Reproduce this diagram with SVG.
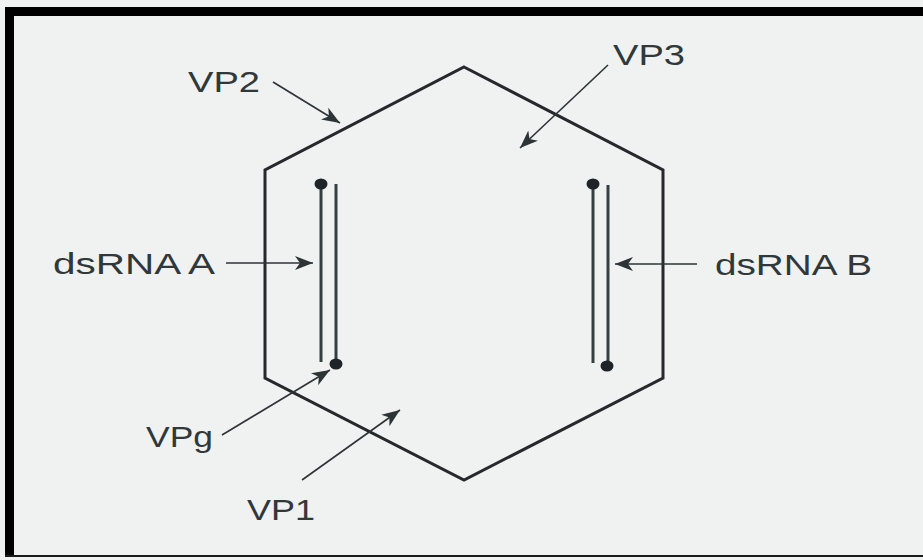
<svg xmlns="http://www.w3.org/2000/svg" width="923" height="560" viewBox="0 0 923 560">
<style>
.lbl{font-family:"Liberation Sans",Arial,sans-serif;font-size:29px;fill:#30383a}
.hex{fill:none;stroke:#26292b;stroke-width:3;stroke-linejoin:miter}
.strand{stroke:#34403f;stroke-width:3;fill:none}
.dot{fill:#1f2428}
.arr{stroke:#2c3436;stroke-width:1.6;fill:none;marker-end:url(#ah)}
</style>
<defs>
<marker id="ah" markerUnits="userSpaceOnUse" markerWidth="20" markerHeight="16" viewBox="0 0 20 16" refX="18" refY="8" orient="auto">
<path d="M0,1 L18,8 L0,15 L5,8 Z" fill="#2c3436"/>
</marker>
</defs>
<rect x="0" y="0" width="923" height="560" fill="#f0f1f1"/>
<rect x="5" y="7" width="918" height="9" fill="#000"/>
<rect x="5" y="7" width="9" height="550" fill="#000"/>
<rect x="5" y="555" width="918" height="2" fill="#1a1a1a"/>
<g id="capsid">
<polygon class="hex" points="464,67 663,170 663,378 464,480 265,378 265,170"/>
</g>
<g id="dsRNA-A-genome">
<line class="strand" x1="321" y1="184" x2="321" y2="362"/>
<line class="strand" x1="336" y1="184" x2="336" y2="364"/>
<ellipse class="dot" cx="321" cy="184" rx="6.5" ry="5.5"/>
<ellipse class="dot" cx="336" cy="364" rx="6.5" ry="5.5"/>
</g>
<g id="dsRNA-B-genome">
<line class="strand" x1="593" y1="184" x2="593" y2="363"/>
<line class="strand" x1="608" y1="185" x2="608" y2="366"/>
<ellipse class="dot" cx="593" cy="184" rx="6.5" ry="5.5"/>
<ellipse class="dot" cx="607" cy="366" rx="6.5" ry="5.5"/>
</g>
<g id="label-VP2"><text class="lbl" x="188" y="92" textLength="72" lengthAdjust="spacingAndGlyphs">VP2</text></g>
<g id="label-VP3"><text class="lbl" x="613" y="65" textLength="72" lengthAdjust="spacingAndGlyphs">VP3</text></g>
<g id="label-dsRNA-A"><text class="lbl" x="53" y="274" textLength="162" lengthAdjust="spacingAndGlyphs">dsRNA A</text></g>
<g id="label-dsRNA-B"><text class="lbl" x="715" y="275" textLength="157" lengthAdjust="spacingAndGlyphs">dsRNA B</text></g>
<g id="label-VPg"><text class="lbl" x="146" y="447" textLength="67" lengthAdjust="spacingAndGlyphs">VPg</text></g>
<g id="label-VP1"><text class="lbl" x="247" y="520" textLength="68" lengthAdjust="spacingAndGlyphs">VP1</text></g>
<g id="connectors">
<line class="arr" x1="273" y1="82" x2="340" y2="123"/>
<line class="arr" x1="608" y1="65" x2="520" y2="148"/>
<line class="arr" x1="226" y1="263" x2="313" y2="263"/>
<line class="arr" x1="697" y1="264" x2="615" y2="264"/>
<line class="arr" x1="222" y1="435" x2="330" y2="370"/>
<line class="arr" x1="302" y1="480" x2="400" y2="410"/>
</g>
</svg>
